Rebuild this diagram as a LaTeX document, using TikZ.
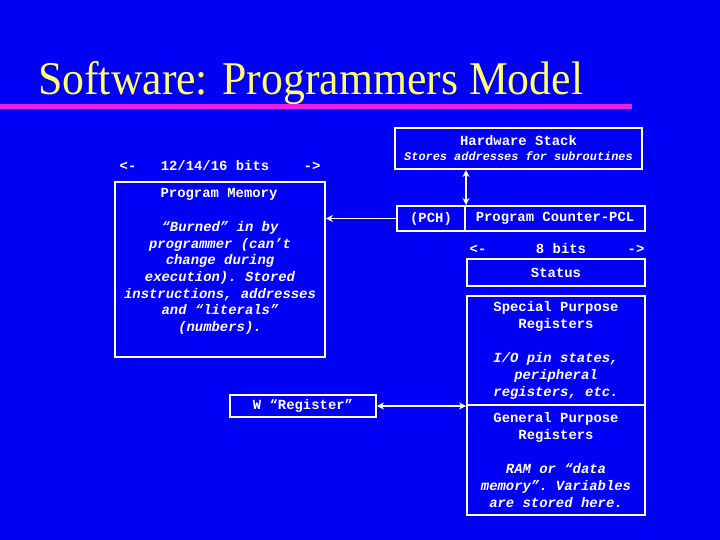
\documentclass[tikz,border=0pt]{standalone}
\usepackage{fontspec}
\setmainfont{Liberation Serif}
\setmonofont{Liberation Mono}
\usepackage{tikz}
\usetikzlibrary{positioning,arrows.meta,calc}
\definecolor{slideblue}{RGB}{0,0,245}
\definecolor{titleyellow}{RGB}{255,255,110}
\definecolor{rulemagenta}{RGB}{235,30,235}
\tikzset{
  dataarrow/.style={draw=white, line width=1.6pt, -{Stealth[length=7pt, width=7pt]}},
  bothways/.style={draw=white, line width=1.6pt, {Stealth[length=7pt, width=7pt]}-{Stealth[length=7pt, width=7pt]}},
  regbox/.style={draw=white, line width=2pt, inner sep=0pt, align=center, text=white, font=\ttfamily\bfseries\fontsize{13.9}{17}\selectfont},
  memtext/.style={text=white, align=center, inner sep=0pt, font=\ttfamily\bfseries\itshape\fontsize{13.9}{16.7}\selectfont},
  widthlabel/.style={text=white, inner sep=0pt, font=\ttfamily\bfseries\fontsize{13.9}{17}\selectfont}
}

\begin{document}
\begin{tikzpicture}[x=1pt, y=-1pt]
  \fill[slideblue] (0,0) rectangle (720,540);
  \useasboundingbox (0,0) rectangle (720,540);
  % title and rule
  \node[anchor=base west, inner sep=0pt, text=titleyellow, font=\fontsize{47}{50}\selectfont, xscale=0.93] (title) at (38,95) {Software: Programmers Model};
  \fill[rulemagenta] (0,104.5) rectangle (632,109.5);
  % program memory side
  \node[widthlabel] (pmleft) at (128,166) {<-};
  \node[widthlabel] (pmbits) at (215,166) {12/14/16 bits};
  \node[widthlabel] (pmright) at (312,166) {->};
  \node[regbox, minimum width=210, minimum height=175] (progmem) at (220,269.5) {};
  \node[widthlabel] (pmtitle) at (219,194) {Program Memory};
  \node[memtext] (pmbody) at (220,278) {“Burned” in by\\programmer (can’t\\change during\\execution). Stored\\instructions, addresses\\and “literals”\\(numbers).};
  \node[regbox, minimum width=146, minimum height=22] (wreg) at (303,406) {W “Register”};
  % stack and program counter
  \node[regbox, minimum width=247, minimum height=41] (stack) at (518.5,148.5) {Hardware Stack\\[-2pt]{\itshape\fontsize{11.9}{14}\selectfont Stores addresses for subroutines}};
  \node[regbox, minimum width=68, minimum height=25] (pch) at (431,218.5) {(PCH)};
  \node[regbox, minimum width=180, minimum height=25] (pcl) at (555,218.5) {Program Counter-PCL};
  % file registers
  \node[widthlabel] (frleft) at (478,249) {<-};
  \node[widthlabel] (frbits) at (561,249) {8 bits};
  \node[widthlabel] (frright) at (636,249) {->};
  \node[regbox, minimum width=178, minimum height=27] (status) at (556,272.5) {Status};
  \node[regbox, minimum width=178, minimum height=109] (spr) at (556,350.5) {Special Purpose\\Registers\\[17pt]{\itshape I/O pin states,}\\{\itshape peripheral}\\{\itshape registers, etc.}};
  \node[regbox, minimum width=178, minimum height=110] (gpr) at (556,460) {General Purpose\\Registers\\[17pt]{\itshape RAM or “data}\\{\itshape memory”. Variables}\\{\itshape are stored here.}};
  % connectors
  \draw[bothways] (stack.south -| pch.north east) -- (pch.north east);
  \draw[dataarrow] (pch.west) -- (progmem.east |- pch.west);
  \draw[bothways] (wreg.east) -- (wreg.east -| gpr.north west);
\end{tikzpicture}
\end{document}
